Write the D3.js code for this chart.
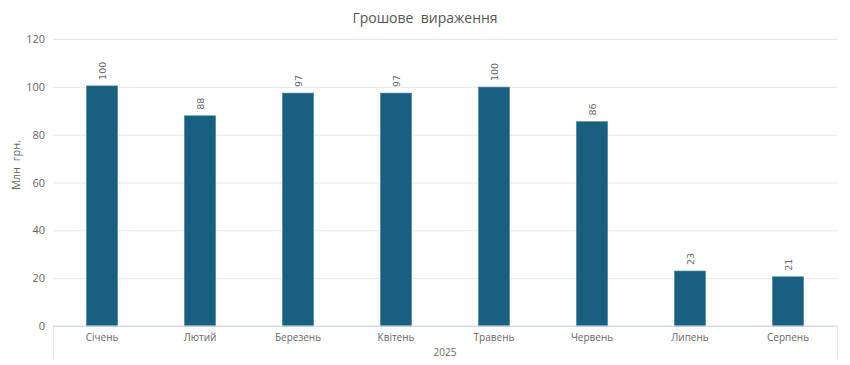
<!DOCTYPE html>
<html><head><meta charset="utf-8">
<script src="https://cdn.jsdelivr.net/npm/d3@7"></script>
<style>body{margin:0;background:#fff;font-family:"Open Sans","DejaVu Sans",sans-serif;}</style>
</head><body><svg id="c" width="850" height="365"></svg>
<script>
const months = ["Січень","Лютий","Березень","Квітень","Травень","Червень","Липень","Серпень"];
const values = [100.4, 87.9, 97.4, 97.4, 99.9, 85.5, 23.0, 20.6];
const valueLabels = ["100","88","97","97","100","86","23","21"];
const yTicks = [0,20,40,60,80,100,120];
const groupLabel = "2025";
const titleText = "Грошове  вираження";
const yTitle = "Млн  грн.";

const svg = d3.select("#c");
const mLeft = 53, mRight = 837, mTop = 39, mBottom = 326;
const x = d3.scaleBand().domain(months).range([mLeft, mRight]).paddingInner(0.68).paddingOuter(0.34);
const y = d3.scaleLinear().domain([0,120]).range([mBottom, mTop]);

svg.append("text").attr("x",425).attr("y",23).attr("text-anchor","middle")
  .attr("font-size",14).attr("fill","#555").style("white-space","pre").text(titleText);

// grid
const ga = svg.append("g").attr("transform",`translate(${mLeft},0)`)
  .call(d3.axisLeft(y).tickValues(yTicks).tickSize(-(mRight-mLeft)).tickPadding(8));
ga.select(".domain").remove();
ga.selectAll(".tick line").attr("stroke","#e6e6e6");
ga.selectAll(".tick text").attr("fill","#666").attr("font-size",11).attr("font-family","Open Sans, sans-serif");

svg.append("text").attr("transform","translate(20,165) rotate(-90)").attr("text-anchor","middle")
  .attr("font-size",11).attr("fill","#666").style("white-space","pre").text(yTitle);

// bars
svg.append("g").selectAll("rect").data(months).join("rect")
  .attr("x",d=>x(d)).attr("width",x.bandwidth())
  .attr("y",(d,i)=>y(values[i])).attr("height",(d,i)=>mBottom-y(values[i]))
  .attr("fill","#176082").attr("stroke","#5d8fa6").attr("stroke-width",0.6);

// value labels
svg.append("g").selectAll("text").data(months).join("text")
  .attr("transform",(d,i)=>`translate(${x(d)+x.bandwidth()/2+3.5},${y(values[i])-6}) rotate(-90)`)
  .attr("font-size",9.5).attr("fill","#666").attr("font-family","DejaVu Sans, sans-serif")
  .text((d,i)=>valueLabels[i]);

// x axis
const xa = svg.append("g").attr("transform",`translate(0,${mBottom})`)
  .call(d3.axisBottom(x).tickSize(0).tickPadding(8));
xa.select(".domain").attr("stroke","#ccd6eb").attr("d",`M${mLeft},0H${mRight}`);
xa.selectAll(".tick text").attr("fill","#666").attr("font-size",10).attr("font-family","Open Sans, sans-serif");

// group dividers
[mLeft, mRight].forEach(px=>{
  svg.append("line").attr("x1",px+0.5).attr("x2",px+0.5).attr("y1",mBottom).attr("y2",359)
    .attr("stroke","#e6e6e6");
});
svg.append("text").attr("x",(mLeft+mRight)/2).attr("y",356).attr("text-anchor","middle")
  .attr("font-size",10).attr("fill","#666").text(groupLabel);
</script></body></html>
